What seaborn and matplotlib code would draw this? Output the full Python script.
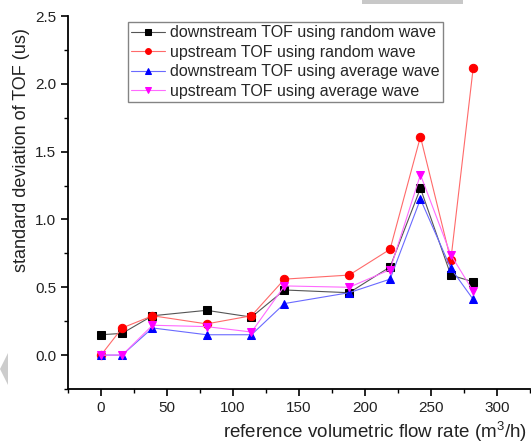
import numpy as np
import pandas as pd
import seaborn as sns
import matplotlib.pyplot as plt
from matplotlib.ticker import MultipleLocator
from matplotlib.patches import Polygon, Rectangle

flow = [0, 16, 39, 80, 114, 139, 188, 219, 242, 265, 282]
down_random = [0.15, 0.16, 0.29, 0.33, 0.28, 0.48, 0.46, 0.65, 1.23, 0.59, 0.54]
up_random = [0.00, 0.20, 0.29, 0.23, 0.29, 0.56, 0.59, 0.78, 1.61, 0.70, 2.12]
down_average = [0.00, 0.00, 0.20, 0.15, 0.15, 0.38, 0.46, 0.56, 1.15, 0.64, 0.41]
up_average = [0.00, 0.00, 0.22, 0.21, 0.17, 0.51, 0.50, 0.63, 1.33, 0.74, 0.47]

labels = ['downstream TOF using random wave', 'upstream TOF using random wave',
          'downstream TOF using average wave', 'upstream TOF using average wave']
colors = ['black', 'red', 'blue', 'magenta']
line_colors = ['#555555', '#ff6a6a', '#6a6aff', '#ff6aff']
markers = ['s', 'o', '^', 'v']

sns.set_theme(style='ticks')
plt.rcParams['font.family'] = ['Liberation Sans', 'DejaVu Sans']
plt.rcParams['mathtext.fontset'] = 'custom'
plt.rcParams['mathtext.rm'] = 'Liberation Sans'

W, H = 531, 447
fig = plt.figure(figsize=(W / 100, H / 100), dpi=100)
ax = fig.add_axes([68 / W, 58 / H, 462 / W, 373 / H])

for lab, vals, c, lc, m in zip(labels, [down_random, up_random, down_average, up_average],
                               colors, line_colors, markers):
    df = pd.DataFrame({'flow': flow, 'std': vals})
    sns.lineplot(data=df, x='flow', y='std', ax=ax, color=lc, linewidth=0.8, marker=m,
                 markersize=6, markerfacecolor=c, markeredgecolor=c, label=lab)

ax.set_xlim(-25, 325)
ax.set_ylim(-0.25, 2.5)
ax.xaxis.set_major_locator(MultipleLocator(50))
ax.xaxis.set_minor_locator(MultipleLocator(25))
ax.yaxis.set_major_locator(MultipleLocator(0.5))
ax.yaxis.set_minor_locator(MultipleLocator(0.25))
ax.yaxis.set_major_formatter(plt.FormatStrFormatter('%.1f'))
ax.tick_params(which='major', length=5, width=1.2, labelsize=11, color='black', labelcolor='#222222')
ax.tick_params(which='minor', length=3, width=1.0, color='black')
sns.despine(ax=ax)
for s in ['left', 'bottom']:
    ax.spines[s].set_linewidth(1.3)
    ax.spines[s].set_color('black')

ax.set_xlabel('reference volumetric flow rate (m$^3$/h)', fontsize=13.5, color='#222222',
              labelpad=3, x=0.665)
ax.set_ylabel('standard deviation of TOF (us)', fontsize=13, color='#222222',
              labelpad=4, y=0.64)

leg = ax.legend(loc='upper left', bbox_to_anchor=(60 / 462, 367 / 373), borderaxespad=0,
                fontsize=11.5, frameon=True, fancybox=False, edgecolor='#666666',
                handlelength=2.1, handletextpad=0.35, borderpad=0.2, labelspacing=0.28,
                markerscale=0.7)
leg.get_frame().set_linewidth(1.0)

# grey screenshot artefacts
fig.patches.append(Polygon([[0, (H - 369) / H], [8 / W, (H - 353) / H], [8 / W, (H - 385) / H]],
                           closed=True, transform=fig.transFigure, facecolor='#cccccc',
                           edgecolor='none'))
fig.patches.append(Rectangle((362 / W, 1 - 4 / H), 101 / W, 4 / H, transform=fig.transFigure,
                             facecolor='#c8c8c8', edgecolor='none'))

fig.savefig('out.png', dpi=100)
